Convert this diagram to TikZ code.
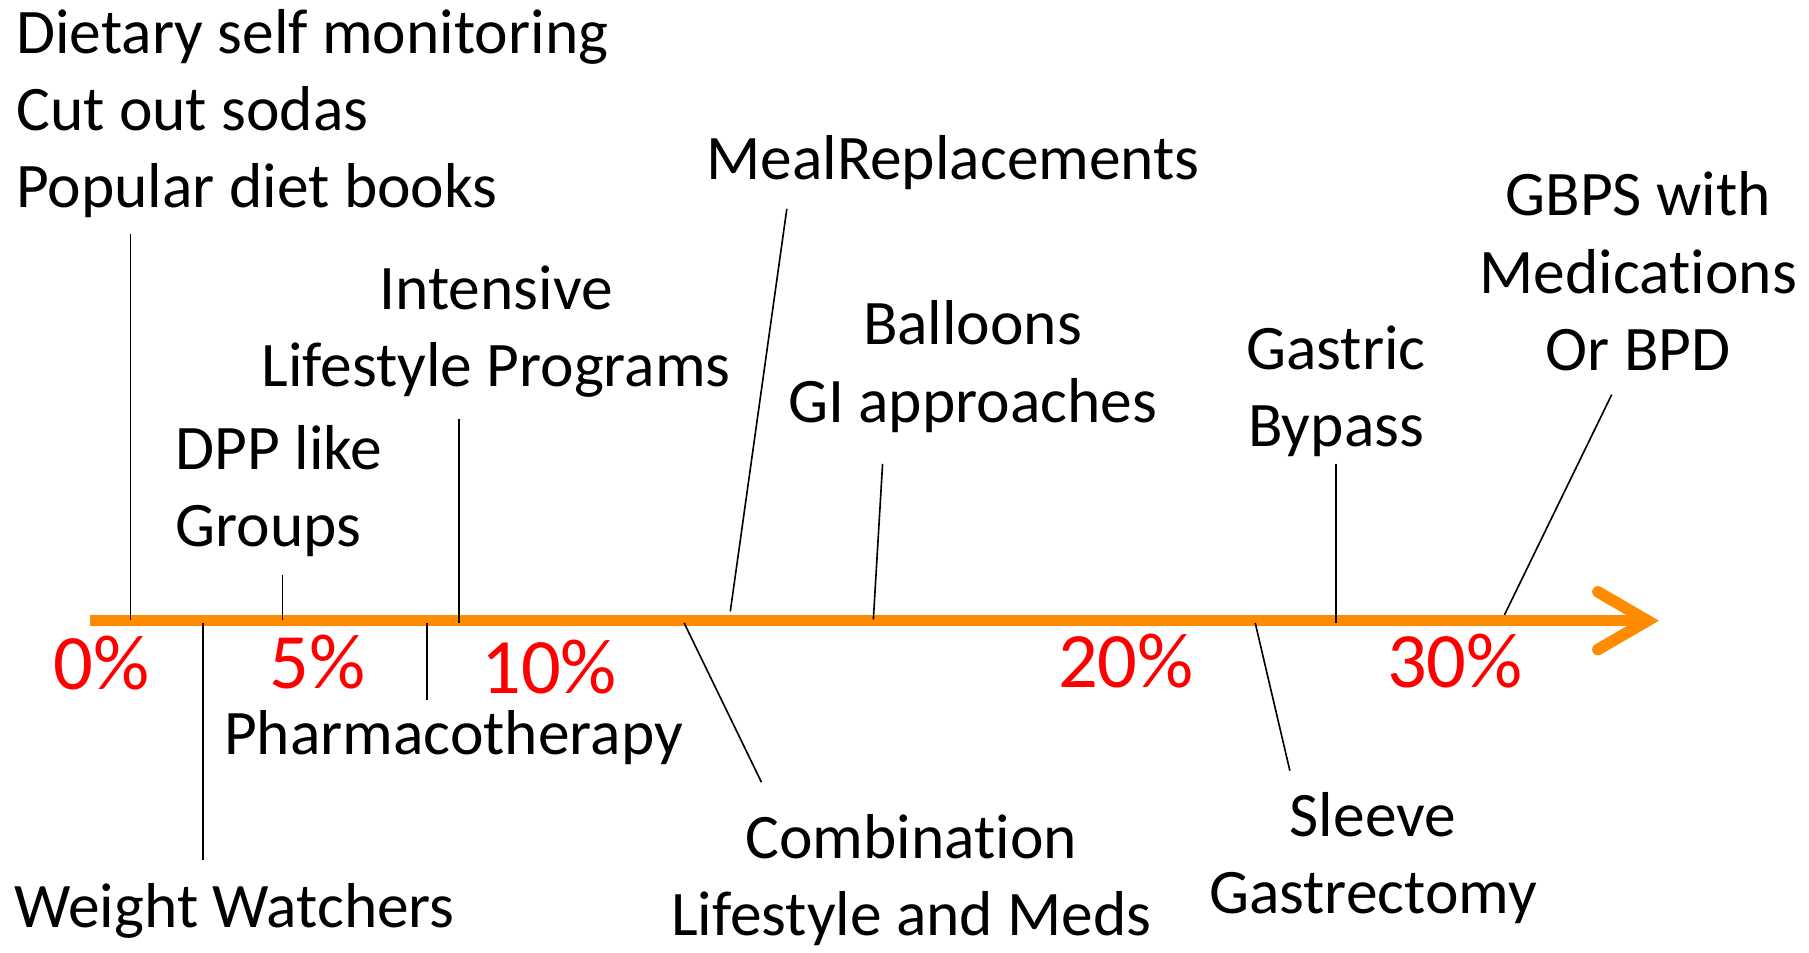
\documentclass[tikz,border=0pt]{standalone}
\usepackage{fontspec}
\setmainfont[Ligatures=NoCommon]{Carlito}
\usepackage{xcolor}
\usetikzlibrary{positioning}
\definecolor{barorange}{RGB}{255,140,0}

\begin{document}
\begin{tikzpicture}[x=1pt,y=-1pt,
   lbl/.style={inner sep=0pt,align=center,font=\fontsize{55}{67}\selectfont},
   pct/.style={inner sep=0pt,text=red,font=\fontsize{68}{80}\selectfont},
   link/.style={line width=1.4pt},
   timeline/.style={draw=barorange,line width=10pt}]
   \useasboundingbox (0,0) rectangle (1568,826);

   % the scale
   \coordinate (t0) at (78,538);
   \coordinate (t1) at (1428,538);
   \coordinate (h1) at (1385,513);
   \coordinate (h2) at (1385,563);
   \draw[timeline] (t0) -- (t1);
   \draw[timeline,line cap=round,line join=miter] (h1) -- (t1) -- (h2);

   \node[pct,anchor=base] (p0)  at (88,598)   {0\%};
   \node[pct,anchor=base] (p5)  at (275,597)  {5\%};
   \node[pct,anchor=base] (p10) at (476,601)  {10\%};
   \node[pct,anchor=base] (p20) at (976,596)  {20\%};
   \node[pct,anchor=base] (p30) at (1261,596) {30\%};

   % above the scale (anchored at the last line)
   \node[lbl,align=left,anchor=base west] (diet) at (14,180)
      {Dietary self monitoring\\Cut out sodas\\Popular diet books};
   \node[lbl,anchor=base] (meal) at (826,156) {MealReplacements};
   \node[lbl,anchor=base] (ilp) at (430,335) {Intensive\\Lifestyle Programs};
   \node[lbl,align=left,anchor=base west] (dpp) at (152,474) {DPP like\\Groups};
   \node[lbl,anchor=base] (balloon) at (843,366) {Balloons\\GI approaches};
   \node[lbl,anchor=base] (bypass) at (1158,387) {Gastric\\Bypass};
   \node[lbl,anchor=base] (gbps) at (1420,321) {GBPS with\\Medications\\Or BPD};

   % below the scale
   \node[lbl,anchor=base] (pharma) at (393,654) {Pharmacotherapy};
   \node[lbl,anchor=base west] (ww) at (12,804) {Weight Watchers};
   \node[lbl,anchor=base] (combo) at (790,811) {Combination\\Lifestyle and Meds};
   \node[lbl,anchor=base] (sleeve) at (1190,792) {Sleeve\\Gastrectomy};

   % pointers
   \coordinate (diet-a) at (113,203);   \coordinate (diet-b) at (113,537);
   \coordinate (meal-a) at (682,181);   \coordinate (meal-b) at (633,530);
   \coordinate (ilp-a) at (398,363);    \coordinate (ilp-b) at (398,540);
   \coordinate (dpp-a) at (245,498);    \coordinate (dpp-b) at (245,537);
   \coordinate (balloon-a) at (765,402); \coordinate (balloon-b) at (757,537);
   \coordinate (bypass-a) at (1158,402); \coordinate (bypass-b) at (1158,540);
   \coordinate (gbps-a) at (1397,342);  \coordinate (gbps-b) at (1304,533);
   \coordinate (pharma-a) at (370,540); \coordinate (pharma-b) at (370,607);
   \coordinate (ww-a) at (176,540);     \coordinate (ww-b) at (176,745);
   \coordinate (combo-a) at (593,540);  \coordinate (combo-b) at (660,678);
   \coordinate (sleeve-a) at (1088,540); \coordinate (sleeve-b) at (1118,668);

   \foreach \n in {diet,meal,ilp,dpp,balloon,bypass,gbps,pharma,ww,combo,sleeve}
      \draw[link] (\n-a) -- (\n-b);
\end{tikzpicture}
\end{document}
